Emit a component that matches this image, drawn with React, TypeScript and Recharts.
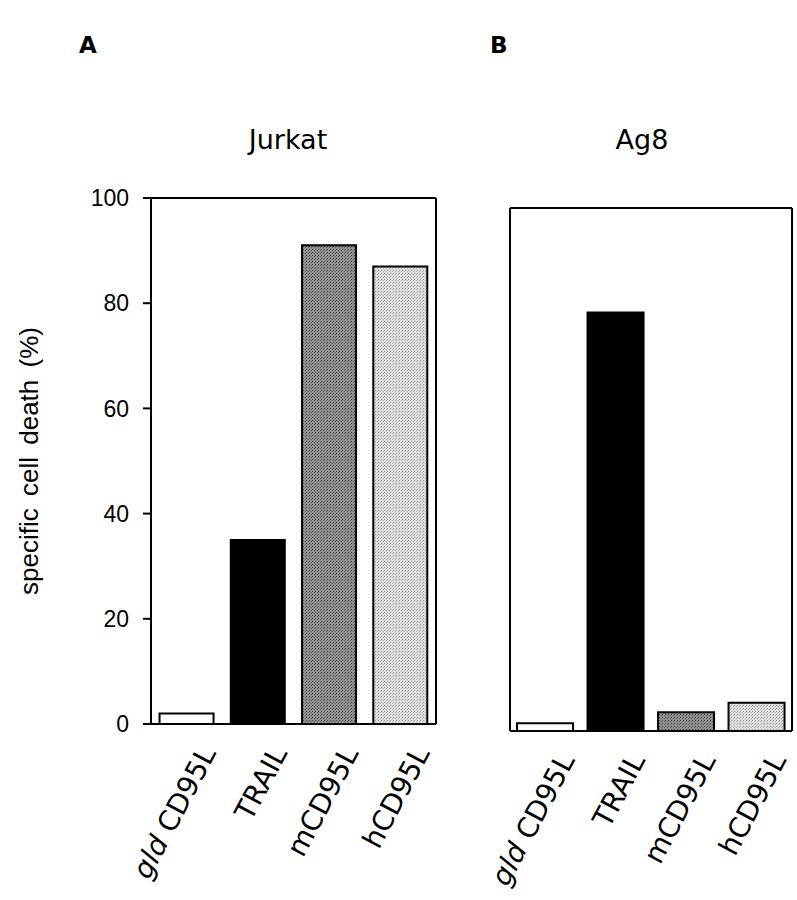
import { BarChart, Bar, Cell, XAxis, YAxis } from 'recharts';

const categories = ['gld CD95L', 'TRAIL', 'mCD95L', 'hCD95L'];
const jurkatValues = [2, 35, 91, 87];
const ag8Values = [1.5, 80, 3.6, 5.4];
const yTicksA = [0, 20, 40, 60, 80, 100];
const yTicksB = [0, 20, 40, 60, 80];
const boundaryTicks = [0, 1, 2, 3, 4];

const jurkatData = categories.map((name, i) => ({ name, value: jurkatValues[i] }));
const ag8Data = categories.map((name, i) => ({ name, value: ag8Values[i] }));

const labelFont = '"DejaVu Sans", sans-serif';
const numberFont = '"Liberation Sans", Arial, sans-serif';

function fillsFor(prefix: string) {
  return ['#ffffff', '#000000', `url(#${prefix}-dark)`, `url(#${prefix}-light)`];
}

function StippleDefs({ prefix }: { prefix: string }) {
  return (
    <defs>
      <pattern id={`${prefix}-dark`} width="3" height="3" patternUnits="userSpaceOnUse">
        <rect width="3" height="3" fill="#8e8e8e" />
        <rect width="1" height="1" fill="#4a4a4a" />
        <rect x="2" y="1" width="1" height="1" fill="#646464" />
      </pattern>
      <pattern id={`${prefix}-light`} width="3" height="3" patternUnits="userSpaceOnUse">
        <rect width="3" height="3" fill="#dcdcdc" />
        <rect width="1" height="1" fill="#a0a0a0" />
        <rect x="2" y="1" width="1" height="1" fill="#b8b8b8" />
      </pattern>
    </defs>
  );
}

function CategoryTick({ x, y, payload }: any) {
  const name: string = payload.value;
  const italic = name.startsWith('gld ');
  return (
    <g transform={`translate(${x + 30},${y + 28}) rotate(-62)`}>
      <text textAnchor="end" fontFamily={labelFont} fontSize={28} fill="#000">
        {italic ? (
          <>
            <tspan fontStyle="italic">gld</tspan>
            {' CD95L'}
          </>
        ) : (
          name
        )}
      </text>
    </g>
  );
}

function YTitle({ viewBox }: any) {
  const cx = viewBox.x + 38;
  const cy = viewBox.y + viewBox.height / 2;
  return (
    <text
      x={cx}
      y={cy}
      transform={`rotate(-90, ${cx}, ${cy})`}
      textAnchor="middle"
      fontFamily={numberFont}
      fontSize={26}
      wordSpacing={5}
      fill="#000"
    >
      specific cell death (%)
    </text>
  );
}

const axisStroke = { stroke: '#000', strokeWidth: 2 };

function Panel({
  data,
  prefix,
  width,
  height,
  margin,
  yWidth,
  yTicks,
  showNumbers,
  gap,
}: any) {
  const fills = fillsFor(prefix);
  return (
    <BarChart width={width} height={height} data={data} margin={margin} barCategoryGap={gap}>
      <StippleDefs prefix={prefix} />
      <XAxis
        xAxisId="bounds"
        type="number"
        domain={[0, 4]}
        ticks={boundaryTicks}
        allowDataOverflow
        height={1}
        tick={false}
        tickSize={8}
        axisLine={axisStroke}
        tickLine={axisStroke}
      />
      <XAxis
        xAxisId="cat"
        dataKey="name"
        height={160}
        interval={0}
        tickSize={0}
        tickMargin={0}
        axisLine={false}
        tickLine={false}
        tick={<CategoryTick />}
      />
      <XAxis
        xAxisId="top"
        orientation="top"
        type="number"
        domain={[0, 1]}
        ticks={[0, 1]}
        height={1}
        tick={false}
        tickLine={false}
        axisLine={axisStroke}
      />
      <YAxis
        yAxisId="left"
        domain={[0, 100]}
        ticks={yTicks}
        interval={0}
        width={yWidth}
        tickSize={8}
        tickMargin={14}
        axisLine={axisStroke}
        tickLine={axisStroke}
        tick={showNumbers ? { fill: '#000', fontSize: 23, fontFamily: numberFont } : false}
        label={showNumbers ? { content: <YTitle /> } : undefined}
      />
      <YAxis
        yAxisId="right"
        orientation="right"
        type="number"
        domain={[0, 1]}
        ticks={[0, 1]}
        width={1}
        tick={false}
        tickLine={false}
        axisLine={axisStroke}
      />
      <Bar
        dataKey="value"
        xAxisId="cat"
        yAxisId="left"
        stroke="#000"
        strokeWidth={2}
        isAnimationActive={false}
      >
        {data.map((_: any, i: number) => (
          <Cell key={`c-${i}`} fill={fills[i]} />
        ))}
      </Bar>
    </BarChart>
  );
}

export default function App() {
  return (
    <div style={{ position: 'absolute', left: 0, top: 0, width: 797, height: 900, background: '#fff' }}>
      <div style={{ position: 'absolute', left: 79, top: 34, fontFamily: labelFont, fontWeight: 'bold', fontSize: 23, lineHeight: 1 }}>
        A
      </div>
      <div style={{ position: 'absolute', left: 490, top: 34, fontFamily: labelFont, fontWeight: 'bold', fontSize: 23, lineHeight: 1 }}>
        B
      </div>
      <div style={{ position: 'absolute', left: 288, top: 126, transform: 'translateX(-50%)', fontFamily: labelFont, fontSize: 27, lineHeight: 1 }}>
        Jurkat
      </div>
      <div style={{ position: 'absolute', left: 642, top: 126, transform: 'translateX(-50%)', fontFamily: labelFont, fontSize: 27, lineHeight: 1 }}>
        Ag8
      </div>
      <div style={{ position: 'absolute', left: 0, top: 0 }}>
        <Panel
          data={jurkatData}
          prefix="a"
          width={470}
          height={900}
          margin={{ top: 197, right: 33, bottom: 15, left: 0 }}
          yWidth={151}
          yTicks={yTicksA}
          showNumbers
          gap="12%"
        />
      </div>
      <div style={{ position: 'absolute', left: 470, top: 0 }}>
        <Panel
          data={ag8Data}
          prefix="b"
          width={327}
          height={900}
          margin={{ top: 207, right: 4, bottom: 8, left: 0 }}
          yWidth={40}
          yTicks={yTicksB}
          showNumbers={false}
          gap="10%"
        />
      </div>
    </div>
  );
}
